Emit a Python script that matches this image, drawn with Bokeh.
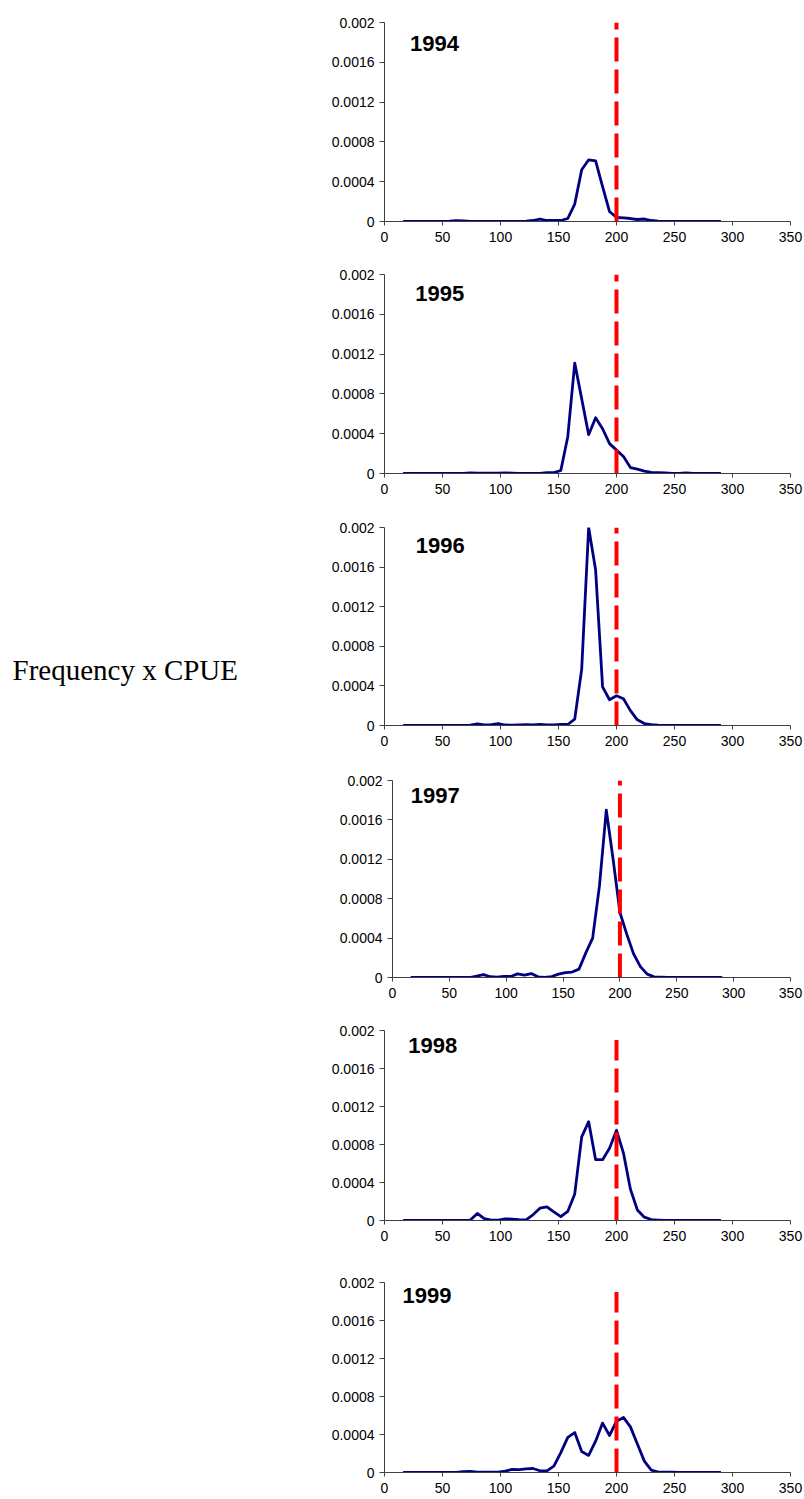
from bokeh.plotting import figure
from bokeh.models import Range1d, FixedTicker, CustomJSTickFormatter, Label, Spacer
from bokeh.layouts import row, column
from bokeh.embed import file_html
from bokeh.resources import INLINE

# ---------------- data ----------------
length_cm = [16, 20, 26, 32, 38, 44, 50, 56, 62, 68, 74, 80, 86, 92, 98, 104,
             110, 116, 122, 128, 134, 140, 146, 152, 158, 164, 170, 176, 182,
             188, 194, 200, 206, 212, 218, 224, 230, 236, 242, 248, 254, 260,
             266, 272, 278, 284, 290]

years = ["1994", "1995", "1996", "1997", "1998", "1999"]

freq_1994 = [0, 0, 0, 0, 0, 0, 0, 0.000003, 0.000008, 0.000005, 0, 0, 0, 0, 0, 0,
             0, 0, 0.000003, 0.00001, 0.000025, 0.00001, 0.00001, 0.00001, 0.00003,
             0.000175, 0.00052, 0.00062, 0.00061, 0.00035, 0.0001, 0.00004, 0.000037,
             0.00003, 0.00002, 0.000025, 0.00001, 0.000003, 0, 0, 0, 0, 0, 0, 0, 0, 0]

freq_1995 = [0, 0, 0, 0, 0, 0, 0, 0, 0, 0, 0.000005, 0.000003, 0.000003, 0.000004,
             0.000003, 0.000006, 0.000004, 0.000002, 0.000002, 0.000002, 0.000002,
             0.000008, 0.000008, 0.00003, 0.00037, 0.00111, 0.00075, 0.00039, 0.00056,
             0.00045, 0.0003, 0.000235, 0.00017, 0.00006, 0.000044, 0.000023, 0.000012,
             0.000008, 0.000005, 0, 0.000002, 0.000005, 0, 0, 0, 0, 0]

freq_1996 = [0, 0, 0, 0, 0, 0, 0, 0, 0, 0, 0.000003, 0.000017, 0.000005, 0.000008,
             0.00002, 0.000005, 0.000003, 0.000005, 0.000008, 0.000005, 0.00001,
             0.000006, 0.000005, 0.00001, 0.00001, 0.000064, 0.00057, 0.002, 0.00157,
             0.00039, 0.00026, 0.0003, 0.00027, 0.00015, 0.000057, 0.00002, 0.000008,
             0.000004, 0.000002, 0, 0, 0.000002, 0, 0, 0, 0, 0]

freq_1997 = [0, 0, 0, 0, 0, 0, 0, 0, 0, 0, 0.000014, 0.00003, 0.000008, 0.000003,
             0.00001, 0.00001, 0.000037, 0.000024, 0.00004, 0.000007, 0, 0.00001,
             0.000034, 0.00005, 0.000055, 0.000085, 0.00025, 0.0004, 0.00093, 0.0017,
             0.0012, 0.00066, 0.00044, 0.00024, 0.00011, 0.000034, 0.000007, 0.000003,
             0, 0, 0, 0, 0, 0, 0, 0, 0]

freq_1998 = [0, 0, 0, 0, 0, 0, 0, 0, 0, 0, 0.000005, 0.000074, 0.00002, 0.000005,
             0.000003, 0.000018, 0.000015, 0.00001, 0.000007, 0.00006, 0.00013,
             0.000144, 0.00009, 0.00004, 0.000095, 0.00028, 0.00088, 0.00104, 0.00064,
             0.00064, 0.00076, 0.00095, 0.00071, 0.00033, 0.00011, 0.000035, 0.00001,
             0.000005, 0, 0, 0, 0, 0, 0, 0, 0, 0]

freq_1999 = [0, 0, 0, 0, 0, 0, 0, 0, 0, 0.00001, 0.000012, 0.000005, 0.000003,
             0.000003, 0.000003, 0.000015, 0.000032, 0.00003, 0.000039, 0.000042,
             0.000018, 0.000018, 0.000067, 0.00021, 0.00037, 0.00042, 0.00022, 0.00018,
             0.00033, 0.00052, 0.00039, 0.00054, 0.00058, 0.00048, 0.0003, 0.00012,
             0.000025, 0.000005, 0.000005, 0.000003, 0, 0, 0, 0, 0, 0, 0]

series = [freq_1994, freq_1995, freq_1996, freq_1997, freq_1998, freq_1999]

x_ticks = [0, 50, 100, 150, 200, 250, 300, 350]
y_ticks = [0, 0.0004, 0.0008, 0.0012, 0.0016, 0.002]
threshold = 200
red_top = [0.002, 0.002, 0.002, 0.002, 0.0019, 0.0019]
year_label_x = [22, 26.5, 27, 16, 20.5, 15.5]
year_label_y = [0.00179, 0.00181, 0.00182, 0.00185, 0.00184, 0.00186]
side_title = "Frequency x CPUE"

# ---------------- layout (pixels) ----------------
border_top = [22, 25, 26, 27, 25, 34]
frame_h = [199, 199, 198, 197, 190, 190]
border_bottom = [28, 28, 28, 28, 28, 25]
indent = [0, 0, 0, 8, 0, 0]
border_left = 76
frame_w = [406, 406, 406, 398, 406, 406]
border_right = 13
left_w = 308

SANS = "Liberation Sans"
SERIF = "Liberation Serif"
AXIS_COLOR = "#404040"

y_fmt = CustomJSTickFormatter(code="""
    if (tick === 0) { return "0"; }
    return String(parseFloat(tick.toFixed(6)));
""")

panels = []
for i, yr in enumerate(years):
    p = figure(frame_width=frame_w[i], frame_height=frame_h[i],
               x_range=Range1d(0, 350), y_range=Range1d(0, 0.002),
               toolbar_location=None, output_backend="svg",
               min_border_top=border_top[i], min_border_bottom=border_bottom[i],
               min_border_left=border_left, min_border_right=border_right)
    p.outline_line_color = None
    p.grid.visible = False
    p.background_fill_color = "white"
    p.border_fill_color = "white"

    p.xaxis.ticker = FixedTicker(ticks=x_ticks)
    p.yaxis.ticker = FixedTicker(ticks=y_ticks)
    p.yaxis.formatter = y_fmt
    for ax in (p.xaxis, p.yaxis):
        ax.axis_line_color = AXIS_COLOR
        ax.axis_line_width = 1
        ax.major_tick_line_color = AXIS_COLOR
        ax.major_tick_in = 0
        ax.minor_tick_line_color = None
        ax.major_label_text_font = SANS
        ax.major_label_text_font_size = "14px"
        ax.major_label_text_color = "black"
    p.yaxis.major_tick_out = 5
    p.yaxis.major_label_standoff = 5
    p.xaxis.major_tick_out = 4
    p.xaxis.major_label_standoff = 6

    p.line(length_cm, series[i], line_color="#000080", line_width=2.8,
           line_join="round")
    p.line([threshold, threshold], [0, red_top[i]], line_color="#FF0000",
           line_width=4, line_dash="24 8")

    p.add_layout(Label(x=year_label_x[i], y=year_label_y[i], text=yr,
                       text_font=SANS, text_font_style="bold",
                       text_font_size="22px", text_baseline="middle",
                       text_align="left", text_color="black"))
    if indent[i]:
        panels.append(row(Spacer(width=indent[i], height=10), p))
    else:
        panels.append(p)

total_h = sum(border_top) + sum(frame_h) + sum(border_bottom)

side = figure(width=left_w, height=total_h, x_range=Range1d(0, left_w),
              y_range=Range1d(total_h, 0), toolbar_location=None,
              output_backend="svg", min_border=0,
              x_axis_location=None, y_axis_location=None)
side.outline_line_color = None
side.grid.visible = False
side.add_layout(Label(x=12, y=669, text=side_title, text_font=SERIF,
                      text_font_size="29px", text_baseline="middle",
                      text_align="left", text_color="black"))

layout = row(side, column(*panels))

open("out.html", "w").write(file_html(layout, INLINE))
